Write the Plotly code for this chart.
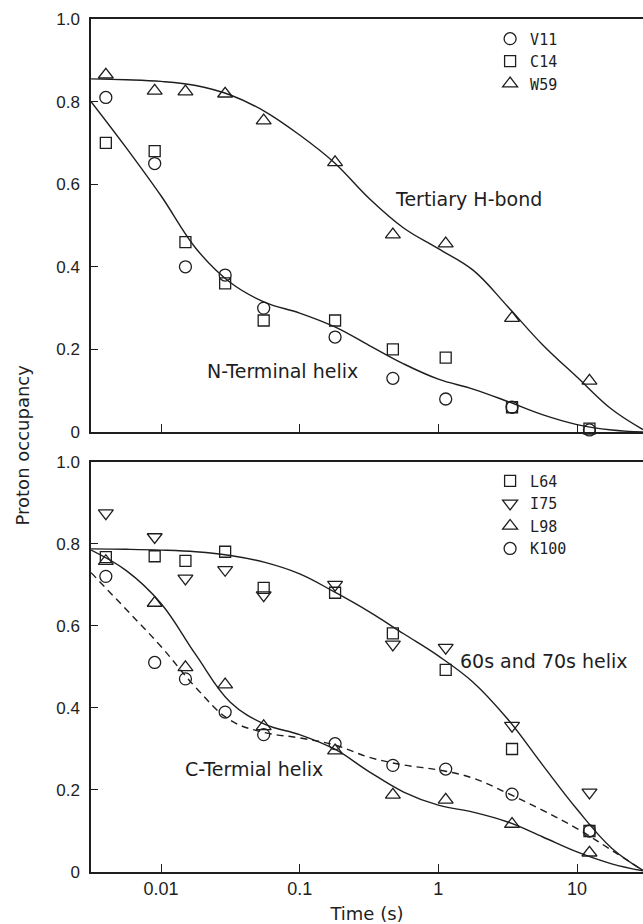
import plotly.graph_objects as go

# ---------------- data ----------------
# measurement times (s)
times = [0.004, 0.009, 0.015, 0.029, 0.055, 0.18, 0.47, 1.13, 3.4, 12.3]

# top panel: proton occupancy
V11 = [0.81, 0.65, 0.40, 0.38, 0.30, 0.23, 0.13, 0.08, 0.06, 0.005]
C14 = [0.70, 0.68, 0.46, 0.36, 0.27, 0.27, 0.20, 0.18, 0.06, 0.008]
W59 = [0.865, 0.826, 0.824, 0.819, 0.754, 0.653, 0.478, 0.456, 0.276, 0.124]

# bottom panel
L64 = [0.768, 0.770, 0.759, 0.781, 0.693, 0.681, 0.582, 0.493, 0.30, 0.10]
I75 = [0.875, 0.817, 0.716, 0.737, 0.675, 0.701, 0.555, 0.547, 0.357, 0.194]
L98 = [0.758, 0.656, 0.499, 0.457, 0.355, 0.296, 0.188, 0.176, 0.117, 0.047]
K100 = [0.721, 0.511, 0.471, 0.39, 0.335, 0.313, 0.26, 0.251, 0.19, 0.10]

# fitted curves
curve_t = [0.00313, 0.00562, 0.01, 0.0178, 0.0316, 0.0562, 0.1, 0.178, 0.316,
           0.562, 1.0, 1.78, 3.16, 5.62, 10.0, 17.8, 29.9]
fit_tertiary = [0.855, 0.853, 0.849, 0.839, 0.816, 0.776, 0.719, 0.652, 0.566,
                0.494, 0.444, 0.392, 0.304, 0.212, 0.133, 0.055, 0.006]
fit_nterm = [0.80, 0.688, 0.572, 0.445, 0.362, 0.314, 0.288, 0.255, 0.21,
             0.165, 0.128, 0.104, 0.074, 0.042, 0.018, 0.005, 0.0]
fit_6070 = [0.788, 0.787, 0.785, 0.781, 0.772, 0.755, 0.727, 0.683, 0.635,
            0.581, 0.527, 0.463, 0.373, 0.262, 0.153, 0.058, 0.004]
fit_cterm = [0.785, 0.735, 0.655, 0.53, 0.414, 0.36, 0.335, 0.30, 0.245,
             0.195, 0.163, 0.146, 0.122, 0.086, 0.049, 0.02, 0.003]
fit_k100 = [0.73, 0.64, 0.55, 0.45, 0.37, 0.34, 0.327, 0.31, 0.28,
            0.261, 0.249, 0.229, 0.192, 0.151, 0.106, 0.053, 0.004]

x_ticks = [0.01, 0.1, 1, 10]
x_ticktext = ["0.01", "0.1", "1", "10"]
y_ticks = [0, 0.2, 0.4, 0.6, 0.8, 1.0]
y_ticktext = ["0", "0.2", "0.4", "0.6", "0.8", "1.0"]

INK = "#1e1e1e"
SANS = "Liberation Sans, Arial, sans-serif"
WIDE = "DejaVu Sans, sans-serif"
MONO = "DejaVu Sans Mono, monospace"

fig = go.Figure()


def add_line(x, y, xa, ya, dash="solid"):
    fig.add_trace(go.Scatter(x=x, y=y, mode="lines", xaxis=xa, yaxis=ya,
                             line=dict(color=INK, width=1.4, dash=dash,
                                       shape="spline", smoothing=1.1),
                             showlegend=False, hoverinfo="skip",
                             cliponaxis=False))


def add_pts(x, y, name, symbol, xa, ya, legend, size=12):
    fig.add_trace(go.Scatter(x=x, y=y, mode="markers", name=name,
                             xaxis=xa, yaxis=ya, legend=legend,
                             marker=dict(symbol=symbol, size=size, color=INK,
                                         line=dict(color=INK, width=1.3)),
                             cliponaxis=False))


# top panel
add_line(curve_t, fit_tertiary, "x", "y")
add_line(curve_t, fit_nterm, "x", "y")
add_pts(times, V11, "V11", "circle-open", "x", "y", "legend")
add_pts(times, C14, "C14", "square-open", "x", "y", "legend", 11)
add_pts(times, W59, "W59", "triangle-up-open", "x", "y", "legend", 13)

# bottom panel
add_line(curve_t, fit_6070, "x2", "y2")
add_line(curve_t, fit_cterm, "x2", "y2")
add_line(curve_t, fit_k100, "x2", "y2", dash="7px,5px")
add_pts(times, L64, "L64", "square-open", "x2", "y2", "legend2", 11)
add_pts(times, I75, "I75", "triangle-down-open", "x2", "y2", "legend2", 13)
add_pts(times, L98, "L98", "triangle-up-open", "x2", "y2", "legend2", 13)
add_pts(times, K100, "K100", "circle-open", "x2", "y2", "legend2")

xcommon = dict(type="log", range=[-2.505, 1.476], tickvals=x_ticks,
               ticktext=x_ticktext, ticks="inside", ticklen=8, tickwidth=1.3,
               tickcolor=INK, showline=True, linecolor=INK, linewidth=1.5,
               mirror=True, showgrid=False, zeroline=False,
               tickfont=dict(family=SANS, size=18, color=INK))
ycommon = dict(range=[0, 1], tickvals=y_ticks, ticktext=y_ticktext,
               ticks="inside", ticklen=7, tickwidth=1.3, tickcolor=INK,
               showline=True, linecolor=INK, linewidth=1.5, showgrid=False,
               zeroline=False, ticklabelstandoff=6,
               tickfont=dict(family=SANS, size=17, color=INK))

legcommon = dict(xanchor="left", yanchor="top", bgcolor="rgba(0,0,0,0)",
                 font=dict(family=MONO, size=15, color=INK),
                 itemclick=False, itemdoubleclick=False, tracegroupgap=0)

fig.update_layout(
    width=643, height=924,
    margin=dict(l=91, r=0, t=19, b=52),
    paper_bgcolor="white", plot_bgcolor="white",
    xaxis=dict(domain=[0, 1], anchor="y", showticklabels=False, **xcommon),
    yaxis=dict(domain=[0.5158, 1], anchor="x", **ycommon),
    xaxis2=dict(domain=[0, 1], anchor="y2",
                title=dict(text="Time (s)", standoff=13,
                           font=dict(family=WIDE, size=18, color=INK)),
                **xcommon),
    yaxis2=dict(domain=[0, 0.4807], anchor="x2", **ycommon),
    legend=dict(x=0.723, y=0.996, **legcommon),
    legend2=dict(x=0.723, y=0.4775, **legcommon),
    showlegend=True,
)

annot_font = dict(family=WIDE, size=19, color=INK)
fig.add_annotation(text="Tertiary H-bond", x=-0.33, y=0.565, xref="x", yref="y",
                   xanchor="left", yanchor="middle", showarrow=False, font=annot_font)
fig.add_annotation(text="N-Terminal helix", x=-1.68, y=0.148, xref="x", yref="y",
                   xanchor="left", yanchor="middle", showarrow=False, font=annot_font)
fig.add_annotation(text="60s and 70s helix", x=0.142, y=0.515, xref="x2", yref="y2",
                   xanchor="left", yanchor="middle", showarrow=False, font=annot_font)
fig.add_annotation(text="C-Termial helix", x=-1.844, y=0.25, xref="x2", yref="y2",
                   xanchor="left", yanchor="middle", showarrow=False, font=annot_font)
fig.add_annotation(text="Proton occupancy", x=-0.125, y=0.5, xref="paper", yref="paper",
                   xanchor="center", yanchor="middle", textangle=-90, showarrow=False,
                   font=dict(family=WIDE, size=18, color=INK))

fig.write_html("out.html")
